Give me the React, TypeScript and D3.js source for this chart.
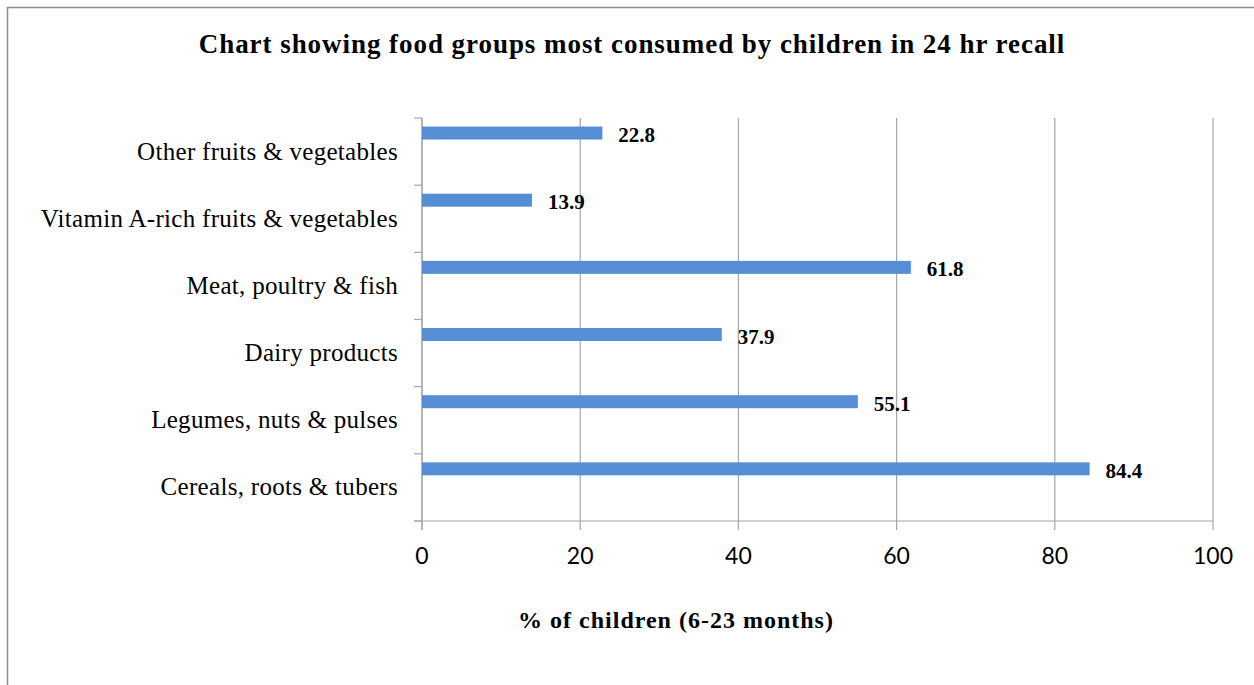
import React from "react";
import * as d3 from "d3";

// Food groups, listed bottom to top as they appear on the axis
const categories = [
  "Cereals, roots & tubers",
  "Legumes, nuts & pulses",
  "Dairy products",
  "Meat, poultry & fish",
  "Vitamin A-rich fruits & vegetables",
  "Other fruits & vegetables",
];
const values = [84.4, 55.1, 37.9, 61.8, 13.9, 22.8];
const xTicks = [0, 20, 40, 60, 80, 100];

const titleText = "Chart showing food groups most consumed by children in 24 hr recall";
const xTitle = "% of children (6-23 months)";

const W = 1254;
const H = 685;
const plot = { left: 422, right: 1213, top: 118, bottom: 521 };

const serif = "'Liberation Serif', 'Times New Roman', serif";
const sans = "Lato, 'Open Sans', sans-serif";
const grid = "#a6a6a6";
const barColor = "#558ed5";

export default function App() {
  const x = d3.scaleLinear().domain([0, 100]).range([plot.left, plot.right]);
  // top category at the top of the plot
  const y = d3
    .scaleBand<string>()
    .domain([...categories].reverse())
    .range([plot.top, plot.bottom])
    .padding(0);
  const bw = y.bandwidth();
  // each band holds two slots; the bar sits in the upper one
  const slot = d3.scaleBand<string>().domain(["v", "e"]).range([0, bw]).paddingOuter(0.23).paddingInner(0.65);

  const rows = categories.map((c, i) => ({ c, v: values[i] }));
  const bandEdges = [...y.domain().map((d) => y(d) as number), plot.bottom];

  return (
    <svg width={W} height={H} style={{ position: "absolute", left: 0, top: 0, background: "#fff" }}>
      {/* chart frame */}
      <rect x={7.5} y={7.5} width={W + 20} height={H + 20} fill="#fff" stroke="#8c8c8c" strokeWidth={1.5} />

      <text x={632} y={53} textAnchor="middle" fontFamily={serif} fontWeight="bold" fontSize={27} letterSpacing={0.95} fill="#000">
        {titleText}
      </text>

      {/* vertical gridlines and tick marks */}
      {xTicks.map((t) => (
        <line key={"g" + t} x1={x(t)} x2={x(t)} y1={plot.top} y2={plot.bottom + 9} stroke={grid} strokeWidth={1.2} />
      ))}

      {/* category axis ticks */}
      {bandEdges.map((e, i) => (
        <line key={"t" + i} x1={plot.left - 8} x2={plot.left} y1={e} y2={e} stroke={grid} strokeWidth={1.2} />
      ))}
      <line x1={plot.left} x2={plot.left} y1={plot.top} y2={plot.bottom + 9} stroke={grid} strokeWidth={1.2} />
      <line x1={plot.left - 8} x2={plot.right} y1={plot.bottom} y2={plot.bottom} stroke={grid} strokeWidth={1.2} />

      {/* bars */}
      {rows.map((r) => (
        <rect
          key={r.c}
          x={x(0)}
          y={(y(r.c) as number) + (slot("v") as number)}
          width={x(r.v) - x(0)}
          height={slot.bandwidth()}
          fill={barColor}
        />
      ))}

      {/* value labels */}
      {rows.map((r) => (
        <text
          key={"l" + r.c}
          x={x(r.v) + 16}
          y={(y(r.c) as number) + (slot("v") as number) + slot.bandwidth() / 2 + 9}
          fontFamily={serif}
          fontWeight="bold"
          fontSize={21}
          fill="#000"
        >
          {r.v.toFixed(1)}
        </text>
      ))}

      {/* category labels */}
      {rows.map((r) => (
        <text
          key={"c" + r.c}
          x={398}
          y={(y(r.c) as number) + bw / 2 + 8}
          textAnchor="end"
          fontFamily={serif}
          fontSize={25}
          letterSpacing={0.3}
          fill="#000"
        >
          {r.c}
        </text>
      ))}

      {/* value axis labels */}
      {xTicks.map((t) => (
        <text key={"x" + t} x={x(t)} y={564} textAnchor="middle" fontFamily={sans} fontSize={23} fill="#000">
          {t}
        </text>
      ))}

      <text x={676} y={628} textAnchor="middle" fontFamily={serif} fontWeight="bold" fontSize={24} letterSpacing={1} fill="#000">
        {xTitle}
      </text>
    </svg>
  );
}
